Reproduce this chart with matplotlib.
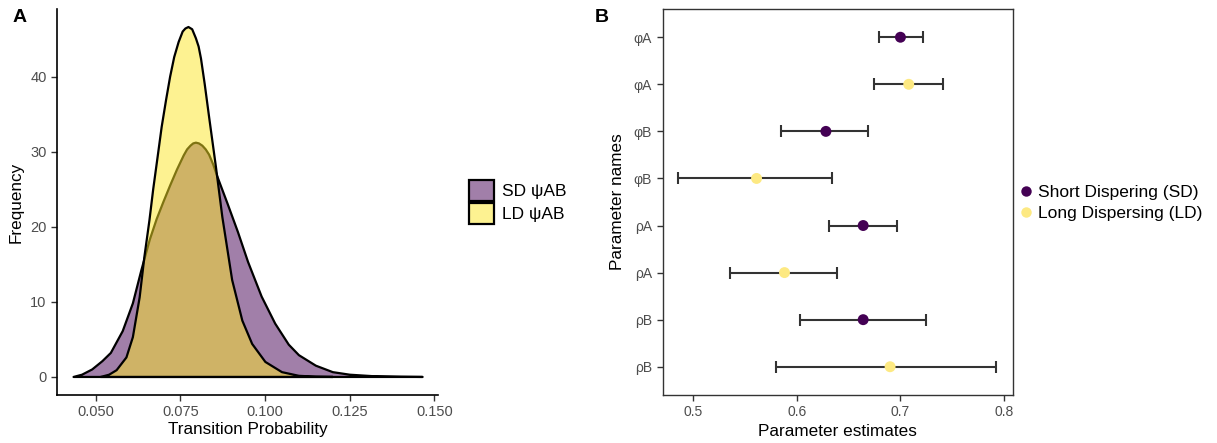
import matplotlib.pyplot as plt
from matplotlib.colors import to_rgba
from matplotlib.patches import Patch
from matplotlib.lines import Line2D

plt.rcParams['font.family'] = ['Liberation Sans', 'DejaVu Sans']

# posterior density of psiAB, short dispersers
sd_x = [0.0435, 0.0460, 0.0490, 0.0520, 0.0545, 0.0580, 0.0610, 0.0635, 0.0660,
        0.0680, 0.0700, 0.0720, 0.0740, 0.0760, 0.0770, 0.0780, 0.0788, 0.0796,
        0.0805, 0.0815, 0.0825, 0.0835, 0.0847, 0.0860, 0.0890, 0.0920, 0.0950,
        0.0990, 0.1030, 0.1070, 0.1100, 0.1150, 0.1200, 0.1250, 0.1320, 0.1400,
        0.1465]
sd_y = [0.0, 0.3, 1.0, 2.1, 3.2, 6.1, 9.8, 14.2, 18.3,
        21.0, 23.3, 25.5, 27.6, 29.5, 30.3, 30.8, 31.1, 31.2,
        31.1, 30.8, 30.3, 29.6, 28.3, 26.6, 23.0, 19.3, 15.3,
        10.7, 7.1, 4.3, 2.9, 1.5, 0.64, 0.3, 0.1, 0.03,
        0.0]

# posterior density of psiAB, long dispersers
ld_x = [0.0515, 0.0540, 0.0562, 0.0591, 0.0610, 0.0630, 0.0644, 0.0659, 0.0670,
        0.0683, 0.0695, 0.0708, 0.0720, 0.0732, 0.0745, 0.0757, 0.0765, 0.0774,
        0.0785, 0.0796, 0.0804, 0.0811, 0.0822, 0.0835, 0.0855, 0.0874, 0.0903,
        0.0933, 0.0962, 0.1001, 0.1050, 0.1100, 0.1150, 0.1200]
ld_y = [0.0, 0.3, 0.9, 2.6, 5.3, 10.6, 16.0, 20.9, 25.0,
        29.3, 33.3, 36.9, 40.0, 42.6, 44.6, 46.0, 46.4, 46.6,
        46.3, 45.1, 44.0, 42.4, 39.0, 34.6, 28.0, 21.3, 12.9,
        7.5, 4.4, 2.0, 0.64, 0.15, 0.04, 0.0]

# parameter estimates with confidence limits, top to bottom
param_names = ['φA', 'φA', 'φB', 'φB', 'ρA', 'ρA', 'ρB', 'ρB']
groups = ['SD', 'LD', 'SD', 'LD', 'SD', 'LD', 'SD', 'LD']
estimates = [0.700, 0.708, 0.628, 0.561, 0.664, 0.588, 0.664, 0.690]
lower = [0.679, 0.674, 0.585, 0.485, 0.631, 0.535, 0.603, 0.580]
upper = [0.722, 0.741, 0.669, 0.634, 0.697, 0.639, 0.725, 0.792]

purple = '#440154'
yellow = '#FDE725'
point_col = {'SD': purple, 'LD': '#FDE982'}
tick_col = '#4D4D4D'

fig = plt.figure(figsize=(12.17, 4.43), dpi=100)

# ---- panel A: densities
ax1 = fig.add_axes([0.0468, 0.1084, 0.3130, 0.8713])
ax1.fill(sd_x, sd_y, facecolor=to_rgba(purple, 0.5), edgecolor='black', lw=1.6,
         joinstyle='round')
ax1.fill(ld_x, ld_y, facecolor=to_rgba(yellow, 0.5), edgecolor='black', lw=1.6,
         joinstyle='round')
ax1.set_xlim(0.0386, 0.1510)
ax1.set_ylim(-2.4, 49.0)
ax1.set_xticks([0.050, 0.075, 0.100, 0.125, 0.150])
ax1.set_xticklabels(['0.050', '0.075', '0.100', '0.125', '0.150'])
ax1.set_yticks([0, 10, 20, 30, 40])
for s in ['top', 'right']:
    ax1.spines[s].set_visible(False)
for s in ['left', 'bottom']:
    ax1.spines[s].set_linewidth(1.2)
ax1.tick_params(colors='#333333', labelcolor=tick_col, labelsize=10.5, length=4, width=1)
ax1.set_xlabel('Transition Probability', fontsize=12.3, labelpad=2)
ax1.set_ylabel('Frequency', fontsize=12.3, labelpad=5)

leg_handles = [Patch(facecolor=to_rgba(purple, 0.5), edgecolor='black', lw=1.6),
               Patch(facecolor=to_rgba(yellow, 0.5), edgecolor='black', lw=1.6)]
fig.legend(leg_handles, ['SD ψAB', 'LD ψAB'], loc='center left',
           bbox_to_anchor=(460 / 1217, 1 - 202 / 443), frameon=False,
           fontsize=12.5, handlelength=1.45, handleheight=1.5,
           handletextpad=0.45, labelspacing=0.12, borderpad=0)

# ---- panel B: estimates
ax2 = fig.add_axes([0.5444, 0.1084, 0.2877, 0.8713])
ypos = list(range(len(param_names), 0, -1))
for y, est, lo, hi, g in zip(ypos, estimates, lower, upper, groups):
    ax2.errorbar(est, y, xerr=[[est - lo], [hi - est]], fmt='none',
                 ecolor='#333333', elinewidth=1.5, capsize=4, capthick=1.5, zorder=2)
    ax2.scatter(est, y, s=62, color=point_col[g], edgecolors='none', zorder=3)
ax2.set_xlim(0.4702, 0.8084)
ax2.set_ylim(0.4, 8.6)
ax2.set_yticks(ypos)
ax2.set_yticklabels(param_names)
ax2.set_xticks([0.5, 0.6, 0.7, 0.8])
ax2.set_xticklabels(['0.5', '0.6', '0.7', '0.8'])
for s in ax2.spines.values():
    s.set_color('#333333')
    s.set_linewidth(1.0)
ax2.tick_params(colors='#333333', labelcolor=tick_col, labelsize=10, length=4, width=1)
ax2.set_xlabel('Parameter estimates', fontsize=12.3, labelpad=3)
ax2.set_ylabel('Parameter names', fontsize=12.3, labelpad=6)

leg_pts = [Line2D([], [], ls='none', marker='o', ms=7.5, color=purple, mec='none'),
           Line2D([], [], ls='none', marker='o', ms=7.5, color=point_col['LD'], mec='none')]
fig.legend(leg_pts, ['Short Dispering (SD)', 'Long Dispersing (LD)'], loc='center left',
           bbox_to_anchor=(1010 / 1217, 1 - 203 / 443), frameon=False,
           fontsize=12.5, handlelength=0.8, handletextpad=0.3, labelspacing=0.35,
           borderpad=0)

fig.text(20 / 1217, 1 - 17 / 443, 'A', fontsize=14, fontweight='bold', ha='center', va='center')
fig.text(602 / 1217, 1 - 17 / 443, 'B', fontsize=14, fontweight='bold', ha='center', va='center')

fig.savefig('out.png', dpi=100)
